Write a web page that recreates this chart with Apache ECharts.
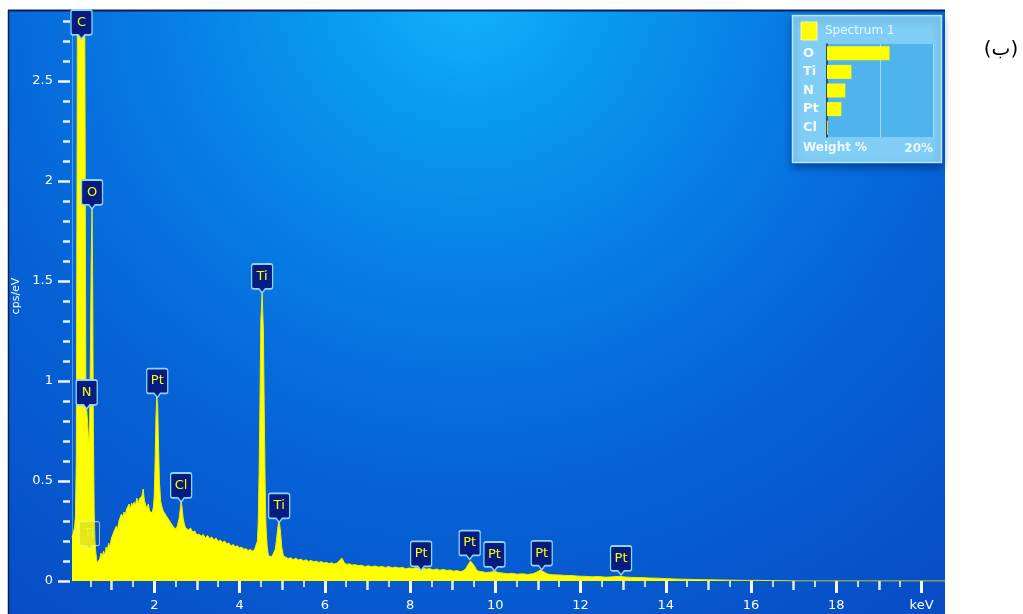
<!DOCTYPE html>
<html><head><meta charset="utf-8">
<script src="https://cdn.jsdelivr.net/npm/echarts@6/dist/echarts.min.js"></script>
<style>html,body{margin:0;padding:0;background:#fff}#c{width:1023px;height:614px}</style>
</head><body><div id="c"></div>
<script>
// ---- data ----
const spectrum = [
[0.07,0.22],[0.10,0.24],[0.13,0.27],[0.15,0.32],[0.17,0.6],[0.19,2.2],[0.21,4.2],[0.24,6.5],[0.27,7.5],[0.30,7.2],[0.33,5.5],[0.36,3.4],[0.38,2.1],[0.395,1.0],[0.41,0.87],[0.42,0.86],[0.44,0.78],[0.46,0.7],[0.48,0.74],[0.50,1.1],[0.52,1.6],[0.54,1.86],[0.555,1.5],[0.57,0.8],[0.59,0.35],[0.61,0.2],[0.63,0.14],[0.66,0.09],[0.69,0.08],
[0.72,0.11],[0.75,0.14],[0.78,0.12],[0.81,0.15],[0.84,0.13],[0.87,0.17],[0.90,0.155],[0.93,0.19],[0.96,0.17],[0.99,0.21],[1.02,0.2],[1.05,0.245],[1.08,0.24],[1.11,0.275],[1.14,0.26],[1.17,0.3],[1.20,0.3],[1.23,0.335],[1.26,0.32],[1.29,0.345],[1.32,0.33],[1.35,0.36],[1.38,0.35],[1.41,0.385],[1.44,0.36],[1.47,0.39],[1.50,0.375],[1.53,0.395],[1.56,0.38],[1.59,0.415],[1.62,0.39],[1.65,0.41],[1.68,0.4],[1.71,0.425],[1.74,0.46],[1.77,0.4],[1.80,0.395],[1.83,0.36],[1.86,0.385],[1.89,0.35],[1.92,0.35],[1.95,0.34],
[1.98,0.37],[2.00,0.43],[2.02,0.6],[2.04,0.82],[2.06,0.92],[2.08,0.88],[2.10,0.68],[2.12,0.5],[2.15,0.4],[2.18,0.37],
[2.21,0.35],[2.24,0.355],[2.27,0.33],[2.30,0.335],[2.33,0.31],[2.36,0.31],[2.39,0.29],[2.42,0.295],[2.45,0.27],[2.48,0.28],[2.51,0.26],[2.54,0.275],[2.56,0.28],[2.58,0.31],[2.61,0.36],[2.63,0.4],[2.65,0.37],[2.68,0.31],
[2.71,0.28],[2.74,0.265],[2.77,0.27],[2.80,0.255],[2.85,0.265],[2.90,0.245],[2.95,0.25],[3.00,0.23],[3.05,0.235],[3.10,0.225],[3.15,0.232],[3.20,0.215],[3.25,0.228],[3.30,0.212],[3.35,0.22],[3.40,0.205],[3.45,0.215],[3.50,0.198],[3.55,0.205],[3.60,0.193],[3.65,0.2],[3.70,0.186],[3.75,0.19],[3.80,0.176],[3.85,0.182],[3.90,0.172],[3.95,0.176],[4.00,0.165],[4.05,0.17],[4.10,0.158],[4.15,0.163],[4.20,0.152],[4.25,0.158],[4.30,0.15],[4.35,0.156],
[4.39,0.165],[4.42,0.2],[4.44,0.3],[4.46,0.55],[4.48,0.9],[4.50,1.3],[4.53,1.44],[4.56,1.25],[4.58,0.85],[4.60,0.5],[4.62,0.28],[4.65,0.17],[4.68,0.125],[4.72,0.12],[4.76,0.122],[4.80,0.13],[4.84,0.16],[4.88,0.23],[4.91,0.285],[4.93,0.3],[4.96,0.25],[4.99,0.17],[5.03,0.125],
[5.08,0.12],[5.14,0.112],[5.20,0.116],[5.26,0.107],[5.32,0.114],[5.38,0.105],[5.44,0.109],[5.50,0.101],[5.56,0.106],[5.62,0.098],[5.68,0.103],[5.74,0.096],[5.80,0.099],[5.86,0.093],[5.92,0.097],[5.98,0.09],[6.04,0.093],[6.10,0.087],[6.16,0.091],[6.22,0.085],[6.28,0.09],[6.34,0.1],[6.40,0.115],[6.46,0.09],[6.52,0.083],[6.58,0.086],[6.64,0.079],[6.70,0.082],[6.78,0.077],[6.86,0.079],[6.94,0.072],[7.02,0.076],[7.10,0.071],[7.18,0.075],[7.26,0.07],[7.34,0.073],[7.42,0.068],[7.50,0.072],[7.58,0.066],[7.66,0.07],[7.74,0.065],[7.82,0.068],[7.90,0.061],[7.98,0.065],[8.06,0.062],[8.14,0.067],[8.22,0.064],[8.30,0.066],[8.38,0.059],[8.46,0.062],[8.54,0.055],[8.62,0.06],[8.70,0.054],[8.78,0.058],[8.86,0.053],[8.94,0.055],[9.02,0.049],[9.10,0.052],[9.18,0.047],[9.26,0.052],
[9.32,0.065],[9.37,0.085],[9.42,0.1],[9.46,0.098],[9.51,0.075],[9.56,0.055],[9.62,0.048],[9.70,0.046],[9.78,0.042],[9.86,0.044],[9.94,0.046],[9.99,0.05],[10.06,0.042],[10.16,0.04],[10.28,0.036],[10.40,0.038],[10.52,0.034],[10.64,0.036],[10.76,0.033],[10.88,0.036],[10.98,0.045],[11.06,0.055],[11.14,0.045],[11.24,0.034],[11.36,0.031],[11.50,0.03],[11.64,0.028],[11.80,0.027],[11.96,0.024],[12.12,0.023],[12.28,0.021],[12.44,0.022],[12.60,0.019],[12.76,0.021],[12.92,0.023],[13.05,0.02],[13.2,0.018],[13.4,0.017],[13.6,0.015],[13.8,0.014],[14.0,0.012],[14.2,0.01],[14.4,0.009],[14.6,0.008],[14.8,0.007],[15.0,0.006],[15.3,0.005],[15.6,0.004],[15.9,0.003],[16.2,0.003],[16.5,0.002],[16.8,0.001],[17.1,0],[20.55,0]
];
const peakNames  = ['C','N','O','Pt','Cl','Ti','Ti','Pt','Pt','Pt','Pt','Pt'];
const peakEnergy = [0.293,0.415,0.54,2.07,2.63,4.53,4.93,8.26,9.40,9.98,11.09,12.95];
const peakTop    = [2.71,0.86,1.86,0.917,0.395,1.44,0.293,0.053,0.107,0.05,0.056,0.03];
const fadedNames  = ['Ti'];
const fadedEnergy = [0.48];
const fadedTop    = [0.157];
const xTickValues = [2,4,6,8,10,12,14,16,18,20];
const xTickLabels = ['2','4','6','8','10','12','14','16','18','keV'];
const yTickValues = [0,0.5,1,1.5,2,2.5];
const yTickLabels = ['0','0.5','1','1.5','2','2.5'];
const elements  = ['O','Ti','N','Pt','Cl'];
const weightPct = [11.8,4.6,3.45,2.7,0.15];
const weightTickValues = [20];
const weightTickLabels = ['20%'];
const spectrumName = 'Spectrum 1';
const yAxisName = 'cps/eV';
const weightName = 'Weight %';
const panelTag = '(ب)';

// ---- derived tick helpers ----
const xMid = [], xHalf = [];
for (let k = 1; k <= 19; k += 2) xMid.push(k);
for (let k = 0.5; k < 20.5; k += 1) xHalf.push(k);
const yMinor = [];
for (let k = 1; k <= 28; k++) if (k % 5 !== 0) yMinor.push(+(k / 10).toFixed(1));
const lookup = (vals, labs) => v => { const i = vals.indexOf(v); return i >= 0 ? labs[i] : ''; };

const FONT = 'DejaVu Sans';
const pin = 'path://M2,0 L18,0 Q20,0 20,2 L20,22 Q20,24 18,24 L13,24 L10,28 L7,24 L2,24 Q0,24 0,22 L0,2 Q0,0 2,0 Z';
const XMIN = 0.07, XMAX = 20.55, YMAX = 2.85;

const chart = echarts.init(document.getElementById('c'), null, {renderer: 'canvas'});
const mainX = (extra) => Object.assign({
  type: 'value', gridIndex: 0, min: XMIN, max: XMAX, position: 'bottom', offset: 3,
  axisLine: {show: false}, splitLine: {show: false}, axisLabel: {show: false}
}, extra);
const mainY = (extra) => Object.assign({
  type: 'value', gridIndex: 0, min: 0, max: YMAX, position: 'left', offset: 2,
  axisLine: {show: false}, splitLine: {show: false}, axisLabel: {show: false}
}, extra);

chart.setOption({
  animation: false,
  backgroundColor: '#ffffff',
  grid: [
    {left: 72, right: 78, top: 11, bottom: 33, containLabel: false},
    {left: 827, top: 44, width: 106, height: 93, show: true, backgroundColor: '#50b4ec', borderWidth: 0}
  ],
  graphic: [
    {type: 'rect', z: -10, silent: true, shape: {x: 8, y: 10, width: 937, height: 604},
     style: {fill: {type: 'radial', x: 0.49, y: -0.05, r: 1.3, colorStops: [
       {offset: 0, color: '#16b4fb'}, {offset: 0.15, color: '#099ef2'}, {offset: 0.4, color: '#077ce4'},
       {offset: 0.65, color: '#0662d6'}, {offset: 1, color: '#084cc4'}]}}},
    {type: 'line', z: -9, silent: true, shape: {x1: 8, y1: 10.5, x2: 945, y2: 10.5}, style: {stroke: '#0b1f55', lineWidth: 2}},
    {type: 'line', z: -9, silent: true, shape: {x1: 8.5, y1: 10, x2: 8.5, y2: 614}, style: {stroke: '#0b1f55', lineWidth: 1.5}},
    {type: 'rect', z: -5, silent: true, shape: {x: 792.5, y: 15.5, width: 149, height: 147},
     style: {fill: '#80cef6', stroke: '#b6e6fc', lineWidth: 1.5, shadowBlur: 8, shadowOffsetY: 4, shadowColor: 'rgba(0,20,80,0.45)'}},
    {type: 'rect', z: -4, silent: true, shape: {x: 801, y: 22, width: 16, height: 18}, style: {fill: '#ffff00', stroke: '#fff7a0', lineWidth: 1}},
    {type: 'text', z: -4, silent: true, x: 825, y: 31, style: {text: spectrumName, font: '12px "' + FONT + '"', fill: '#e4f5ff', verticalAlign: 'middle'}},
    {type: 'text', z: -4, silent: true, x: 803, y: 148, style: {text: weightName, font: 'bold 12px "' + FONT + '"', fill: '#eef8ff', verticalAlign: 'middle'}},
    {type: 'text', silent: true, x: 1001, y: 50, style: {text: panelTag, font: '20px "DejaVu Sans"', fill: '#000000', align: 'center', verticalAlign: 'middle'}}
  ],
  xAxis: [
    mainX({axisTick: {customValues: xTickValues, length: 12, lineStyle: {color: '#f2f9ff', width: 3}},
           axisLabel: {show: true, customValues: xTickValues, formatter: lookup(xTickValues, xTickLabels),
                       color: '#ffffff', fontSize: 13, fontFamily: FONT, margin: 15}}),
    mainX({axisTick: {customValues: xMid, length: 9, lineStyle: {color: '#dcefff', width: 2.5}}}),
    mainX({axisTick: {customValues: xHalf, length: 6, lineStyle: {color: '#b9dcff', width: 2}}}),
    {type: 'value', gridIndex: 1, min: 0, max: 20, interval: 10,
     axisLine: {show: false}, axisTick: {show: false},
     splitLine: {show: true, lineStyle: {color: '#a6dcf8', width: 1}},
     axisLabel: {customValues: weightTickValues, formatter: lookup(weightTickValues, weightTickLabels), align: 'right',
                 color: '#eef8ff', fontWeight: 'bold', fontSize: 12, fontFamily: FONT, margin: 6}}
  ],
  yAxis: [
    mainY({name: yAxisName, nameLocation: 'middle', nameRotate: 90, nameGap: 40,
           nameTextStyle: {color: '#ffffff', fontSize: 11, fontFamily: FONT},
           axisTick: {customValues: yTickValues, length: 12, lineStyle: {color: '#f2f9ff', width: 2.5}},
           axisLabel: {show: true, customValues: yTickValues, formatter: lookup(yTickValues, yTickLabels),
                       color: '#ffffff', fontSize: 13, fontFamily: FONT, margin: 17}}),
    mainY({axisTick: {customValues: yMinor, length: 7, lineStyle: {color: '#e2f1ff', width: 2.5}}}),
    mainY({offset: 0, axisTick: {show: false}, axisLine: {show: true, lineStyle: {color: 'rgba(130,200,255,0.55)', width: 1}}}),
    {type: 'category', gridIndex: 1, data: elements, inverse: true,
     axisLine: {show: true, lineStyle: {color: '#13224a', width: 1.5}}, axisTick: {show: false},
     axisLabel: {color: '#f4fbff', fontWeight: 'bold', fontSize: 13, fontFamily: FONT, align: 'left', margin: 24}}
  ],
  series: [
    {type: 'line', name: spectrumName, xAxisIndex: 0, yAxisIndex: 0, data: spectrum, showSymbol: false,
     symbol: 'none', clip: true, z: 3, lineStyle: {color: '#eeee00', width: 1}, areaStyle: {color: '#ffff00', opacity: 1}},
    {type: 'scatter', xAxisIndex: 0, yAxisIndex: 0, z: 4, clip: false,
     data: fadedEnergy.map((e, i) => ({name: fadedNames[i], value: [e, fadedTop[i]]})),
     symbol: pin, symbolSize: [20, 28], symbolOffset: [0, '-50%'],
     itemStyle: {color: 'rgba(20,60,150,0.15)', borderColor: 'rgba(225,240,215,0.85)', borderWidth: 1.2},
     label: {show: true, position: 'inside', formatter: '{b}', offset: [0, -2], color: 'rgba(255,255,120,0.5)', fontSize: 12, fontFamily: FONT}},
    {type: 'scatter', xAxisIndex: 0, yAxisIndex: 0, z: 5, clip: false,
     data: peakEnergy.map((e, i) => ({name: peakNames[i], value: [e, peakTop[i]]})),
     symbol: pin, symbolSize: [21, 29], symbolOffset: [0, '-50%'],
     itemStyle: {color: '#061c80', borderColor: '#8ed4fb', borderWidth: 1.5, opacity: 1},
     label: {show: true, position: 'inside', formatter: '{b}', offset: [0, -2], color: '#ffff00', fontSize: 13, fontFamily: FONT}},
    {type: 'bar', xAxisIndex: 3, yAxisIndex: 3, data: weightPct, barWidth: 14, z: 3, itemStyle: {color: '#ffff00'}}
  ]
});
</script>
</body></html>
